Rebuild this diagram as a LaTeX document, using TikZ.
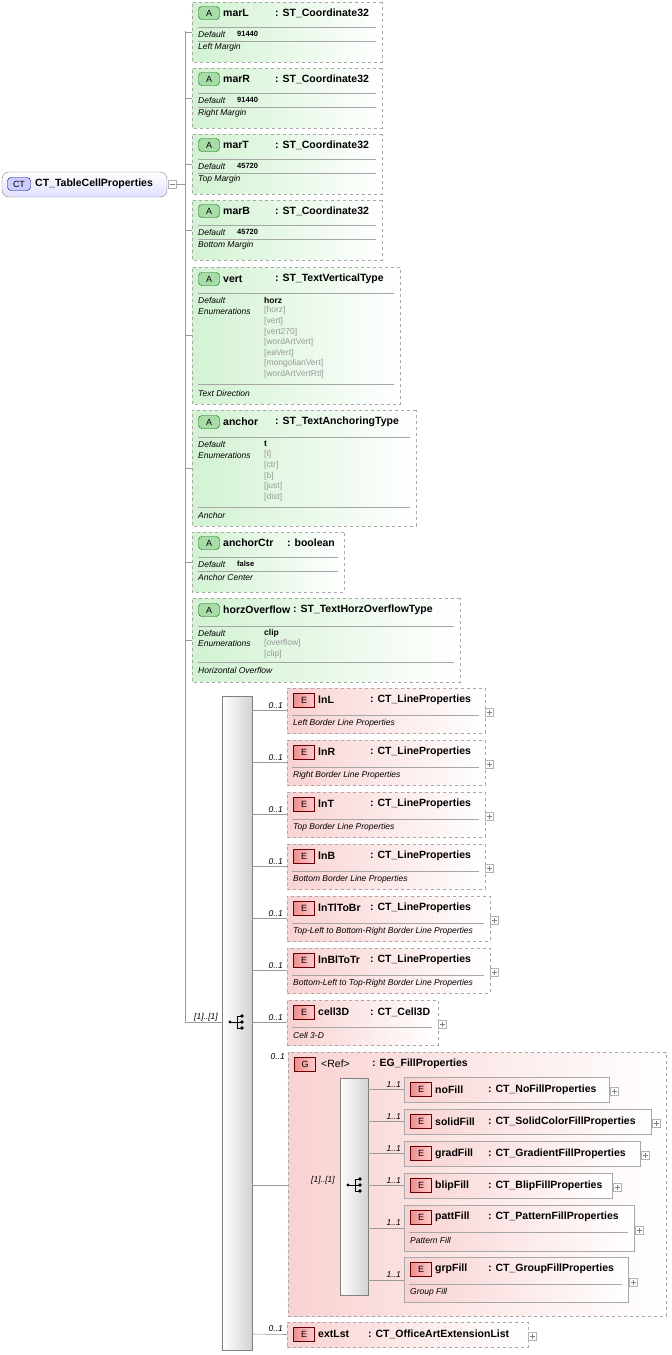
\documentclass[tikz,border=0pt]{standalone}
\usepackage{fontspec}
\setmainfont{Liberation Sans}
\usetikzlibrary{shapes.misc}
\definecolor{agreen}{HTML}{D2F2D2}
\definecolor{abadge}{HTML}{A8DCA8}
\definecolor{ered}{HTML}{F9D2D2}
\definecolor{ebadge}{HTML}{EE8E8E}
\definecolor{bord}{HTML}{A8A8A8}
\tikzset{
 x=1pt,y=-1pt,
 abg/.style={chamfered rectangle,chamfered rectangle corners={north west,south west},chamfered rectangle xsep=5pt,chamfered rectangle ysep=5pt,draw=bord,dashed,left color=agreen,right color=white,outer sep=0pt,inner sep=0pt},
 ebg/.style={rectangle,draw=bord,dashed,left color=ered,right color=white,outer sep=0pt,inner sep=0pt},
 esolid/.style={rectangle,draw=bord,left color=ered,right color=white,outer sep=0pt,inner sep=0pt},
 abadgest/.style={draw=black!60!green,fill=abadge,rounded corners=3.5pt,minimum width=21pt,minimum height=13pt,inner sep=0pt,font=\fontsize{9}{10}\selectfont},
 ebadgest/.style={draw=red!40!black,left color=ebadge,right color=red!20,minimum width=21pt,minimum height=14pt,inner sep=0pt,font=\fontsize{9}{10}\selectfont},
 ttl/.style={anchor=west,inner sep=0pt,font=\fontsize{10.5}{12}\bfseries},
 doc/.style={anchor=west,inner sep=0pt,font=\fontsize{8.5}{10}\itshape},
 dval/.style={anchor=west,inner sep=0pt,font=\fontsize{7.5}{9}\bfseries},
 enm/.style={anchor=west,inner sep=0pt,font=\fontsize{8.5}{10}\selectfont,text=gray!80},
 card/.style={anchor=east,inner sep=0pt,font=\fontsize{8.5}{10}\itshape},
 sep/.style={draw=gray!70,line width=0.6pt},
 conn/.style={draw=gray!80,line width=0.6pt},
 seqbox/.style={draw=gray,left color=white,right color=gray!35,inner sep=0pt,outer sep=0pt},
 plusbox/.style={draw=gray!60,fill=white,minimum size=8pt,inner sep=0pt},
}
\newcommand\abox[5]{\node[abg,minimum width={#4-#2},minimum height={#5-#3}] (#1) at ({(#2+#4)/2},{(#3+#5)/2}) {};}
\newcommand\atitle[6]{\node[abadgest] (#1b) at ({#2+17},{#3}) {A};\node[ttl] (#1n) at ({#2+31},{#3}) {#4};\node[ttl] (#1t) at ({#5},{#3}) {: #6};}
\newcommand\etitle[6]{\node[ebadgest] (#1b) at ({#2+17},{#3}) {E};\node[ttl] (#1n) at ({#2+31},{#3}) {#4};\node[ttl] (#1t) at ({#5},{#3}) {: #6};}
\newcommand\pbox[3]{\node[plusbox] (#1) at ({#2},{#3}) {};\draw[gray] ({#2-2.5},{#3})--({#2+2.5},{#3}) ({#2},{#3-2.5})--({#2},{#3+2.5});}
\newcommand\sattr[9]{\abox{#1}{#2}{#3}{#4}{#5}\atitle{#1}{#2}{#3+11}{#6}{#7}{#8}%
 \draw[sep] ({#2+6},{#3+25})--({#4-6},{#3+25}) ({#2+6},{#3+39})--({#4-6},{#3+39});
 \node[doc] (#1d) at ({#2+6},{#3+32}) {Default};\node[dval] (#1v) at ({#2+45},{#3+32}) {#9};
 \coordinate (#1c) at ({#2},{(#3+#5)/2});\draw[conn] (#1c) -- ++(-7,0);}
\newcommand\elem[9]{\node[ebg,minimum width={#4-#2},minimum height={#5-#3}] (#1) at ({(#2+#4)/2},{(#3+#5)/2}) {};
 \etitle{#1}{#2}{#3+12}{#6}{#7}{#8}\draw[sep] ({#2+5},{#3+27})--({#4-6},{#3+27});\node[doc] (#1d) at ({#2+6},{#3+35}) {#9};
 \pbox{#1p}{#4+4.5}{(#3+#5)/2+2}
 \coordinate (#1c) at (252,{(#3+#5)/2});\draw[conn] (#1c) -- ({#2},{(#3+#5)/2});\node[card] (#1k) at (283,{(#3+#5)/2-5}) {0..1};}
\newcommand\seqsym[3]{\fill (#2-7,#3) circle (1.6);\draw[line width=0.8pt] (#2-7,#3)--(#2,#3) (#2,#3-6)--(#2,#3+6) (#2,#3-6)--(#2+5,#3-6) (#2,#3)--(#2+5,#3) (#2,#3+6)--(#2+5,#3+6);
 \fill (#2+5,#3-6) circle (1.8) (#2+5,#3) circle (1.8) (#2+5,#3+6) circle (1.8);\coordinate (#1) at (#2,#3);}
\newcommand\ielem[6]{\node[esolid,minimum width={#3-404},minimum height={#4-#2}] (#1) at ({(404+#3)/2},{(#2+#4)/2}) {};
 \etitle{#1}{404}{#2+12.5}{#5}{488}{#6}\pbox{#1p}{#3+5}{(#2+#4)/2+2}
 \draw[conn] (368,{(#2+#4)/2}) -- (404,{(#2+#4)/2});\node[card] (#1k) at (401,{(#2+#4)/2-5}) {1..1};}
\begin{document}
\begin{tikzpicture}
\useasboundingbox[fill=white] (0,0) rectangle (672,1355);
\draw[conn] (185,31) -- (185,1022);
\node[draw=gray,rounded corners=7pt,top color=white,bottom color=blue!12,minimum width=165pt,minimum height=25pt,inner sep=0pt] (root) at (84.5,184.5) {};
\node[draw=blue!50!black,fill=blue!20,rounded corners=3.5pt,minimum width=23pt,minimum height=13pt,inner sep=0pt,font=\fontsize{9}{10}\selectfont] (rootb) at (19,184) {CT};
\node[ttl] (rootn) at (35,184) {CT\_TableCellProperties};
\node[draw=gray!60,fill=white,minimum size=8pt,inner sep=0pt] (rootm) at (172,184) {};
\draw[gray] (169.5,184)--(174.5,184);
\draw[conn] (rootm) -- (185,184);
\sattr{marL}{192}{2}{382}{62}{marL}{275}{ST\_Coordinate32}{91440}
\node[doc] at (198,47) {Left Margin};
\sattr{marR}{192}{68}{382}{128}{marR}{275}{ST\_Coordinate32}{91440}
\node[doc] at (198,113) {Right Margin};
\sattr{marT}{192}{134}{382}{194}{marT}{275}{ST\_Coordinate32}{45720}
\node[doc] at (198,179) {Top Margin};
\sattr{marB}{192}{200}{382}{260}{marB}{275}{ST\_Coordinate32}{45720}
\node[doc] at (198,245) {Bottom Margin};
\sattr{ctr}{192}{532}{344}{592}{anchorCtr}{287}{boolean}{false}
\node[doc] at (198,577) {Anchor Center};
\abox{vert}{192}{267}{400}{404}\atitle{vert}{192}{279}{vert}{275}{ST\_TextVerticalType}
\draw[sep] (198,293)--(394,293) (198,384)--(394,384);
\node[doc] at (198,300) {Default};\node[doc] at (198,311) {Enumerations};
\node[dval,font=\fontsize{8.5}{10}\bfseries] at (264,300) {horz};
\foreach \t [count=\i] in {[horz],[vert],[vert270],[wordArtVert],[eaVert],[mongolianVert],[wordArtVertRtl]}
 \node[enm] at (264,300+10.6*\i) {\t};
\node[doc] at (198,393) {Text Direction};
\draw[conn] (185,335) -- (192,335);
\abox{anch}{192}{410}{416}{526}\atitle{anch}{192}{422}{anchor}{275}{ST\_TextAnchoringType}
\draw[sep] (198,437)--(410,437) (198,507)--(410,507);
\node[doc] at (198,444) {Default};\node[doc] at (198,455) {Enumerations};
\node[dval,font=\fontsize{8.5}{10}\bfseries] at (264,444) {t};
\foreach \t [count=\i] in {[t],[ctr],[b],[just],[dist]}
 \node[enm] at (264,444+10.6*\i) {\t};
\node[doc] at (198,515) {Anchor};
\draw[conn] (185,468) -- (192,468);
\abox{hov}{192}{598}{460}{682}\atitle{hov}{192}{610}{horzOverflow}{293}{ST\_TextHorzOverflowType}
\draw[sep] (198,626)--(454,626) (198,662)--(454,662);
\node[doc] at (198,633) {Default};\node[doc] at (198,643) {Enumerations};
\node[dval,font=\fontsize{8.5}{10}\bfseries] at (264,633) {clip};
\node[enm] at (264,643) {[overflow]};\node[enm] at (264,654) {[clip]};
\node[doc] at (198,670) {Horizontal Overflow};
\draw[conn] (185,640) -- (192,640);
\node[seqbox,minimum width=30pt,minimum height=654pt] (seq) at (237,1023) {};
\seqsym{seqs}{237}{1022}
\draw[conn] (185,1022) -- (222,1022);
\node[card] (seqk) at (218,1017) {[1]..[1]};
\elem{lnL}{287}{688}{485}{733}{lnL}{370}{CT\_LineProperties}{Left Border Line Properties}
\elem{lnR}{287}{740}{485}{785}{lnR}{370}{CT\_LineProperties}{Right Border Line Properties}
\elem{lnT}{287}{792}{485}{837}{lnT}{370}{CT\_LineProperties}{Top Border Line Properties}
\elem{lnB}{287}{844}{485}{889}{lnB}{370}{CT\_LineProperties}{Bottom Border Line Properties}
\elem{lnTB}{287}{896}{490}{941}{lnTlToBr}{370}{CT\_LineProperties}{Top-Left to Bottom-Right Border Line Properties}
\elem{lnBT}{287}{948}{490}{993}{lnBlToTr}{370}{CT\_LineProperties}{Bottom-Left to Top-Right Border Line Properties}
\elem{c3d}{287}{1000}{438}{1045}{cell3D}{370}{CT\_Cell3D}{Cell 3-D}
\node[ebg,minimum width=378pt,minimum height=264pt] (grp) at (477,1184) {};
\node[ebadgest] (grpb) at (305,1064) {G};
\node[anchor=west,inner sep=0pt,font=\fontsize{10.5}{12}\selectfont] (grpn) at (321,1064) {<Ref>};
\node[ttl] (grpt) at (372,1064) {: EG\_FillProperties};
\node[card] (grpk) at (285,1057) {0..1};
\draw[conn] (252,1185) -- (288,1185);
\node[card] (grpk2) at (335,1180) {[1]..[1]};
\node[seqbox,minimum width=28pt,minimum height=217pt] (iseq) at (354,1186.5) {};
\seqsym{iseqs}{355}{1185}
\ielem{nof}{1077}{609}{1102}{noFill}{CT\_NoFillProperties}
\ielem{sof}{1109}{651}{1134}{solidFill}{CT\_SolidColorFillProperties}
\ielem{grf}{1141}{640}{1166}{gradFill}{CT\_GradientFillProperties}
\ielem{blf}{1173}{612}{1198}{blipFill}{CT\_BlipFillProperties}
\node[esolid,minimum width=230pt,minimum height=46pt] (paf) at (519,1228) {};
\etitle{paf}{404}{1217}{pattFill}{488}{CT\_PatternFillProperties}
\draw[sep] (409,1232)--(628,1232);\node[doc] (pafd) at (410,1240) {Pattern Fill};
\pbox{pafp}{639}{1230}\draw[conn] (368,1228) -- (404,1228);\node[card] (pafk) at (401,1223) {1..1};
\node[esolid,minimum width=224pt,minimum height=45pt] (gpf) at (516,1279.5) {};
\etitle{gpf}{404}{1269}{grpFill}{488}{CT\_GroupFillProperties}
\draw[sep] (409,1284)--(622,1284);\node[doc] (gpfd) at (410,1292) {Group Fill};
\pbox{gpfp}{633}{1282}\draw[conn] (368,1280) -- (404,1280);\node[card] (gpfk) at (401,1275) {1..1};
\node[ebg,minimum width=241pt,minimum height=25pt] (ext) at (407.5,1334.5) {};
\etitle{ext}{287}{1334}{extLst}{368}{CT\_OfficeArtExtensionList}
\pbox{extp}{532.5}{1336}
\draw[conn] (252,1334) -- (ext.west);\node[card] (extk) at (283,1329) {0..1};
\end{tikzpicture}
\end{document}
